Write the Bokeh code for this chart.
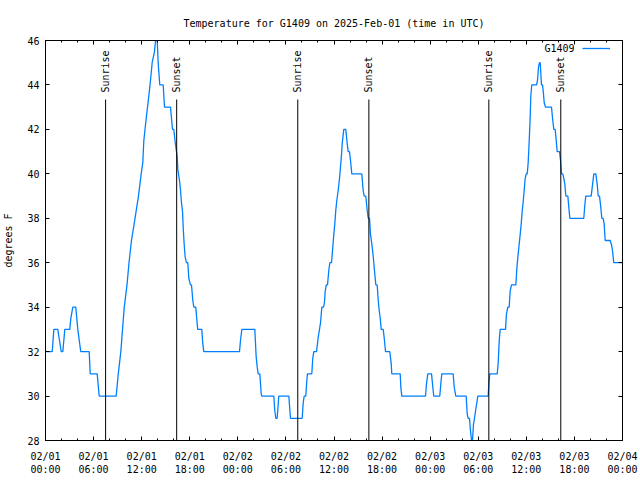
import math
from bokeh.plotting import figure
from bokeh.models import (Range1d, FixedTicker, LinearAxis, Label, Legend,
                          LegendItem, ColumnDataSource)
from bokeh.embed import file_html
from bokeh.resources import INLINE
from bokeh.core.properties import value

# ---- data (hours since 2025-02-01 00:00 UTC, degrees F) ----
hours = [
    0.00, 0.84, 1.04, 1.53, 1.75, 1.96, 2.16, 2.41, 3.03, 3.16, 3.41, 3.78, 4.03, 4.40,
    5.45, 5.58, 6.45, 6.70, 8.82, 9.08, 9.40, 9.61, 9.83, 10.17, 10.42, 10.73, 11.17,
    11.60, 11.94, 12.14, 12.27, 12.57, 12.89, 13.10, 13.31, 13.60, 13.73, 13.94, 14.06,
    14.26, 14.69, 14.85, 15.60, 15.72, 15.85, 16.01, 16.22, 16.43, 16.51, 16.72, 16.85,
    16.97, 17.10, 17.18, 17.31, 17.43, 17.59, 17.76, 17.88, 18.09, 18.22, 18.38, 18.51,
    18.75, 18.93, 19.00, 19.50, 19.63, 19.75, 24.21, 24.33, 24.50, 26.12, 26.29, 26.42,
    26.54, 26.74, 26.92, 26.99, 28.49, 28.61, 28.74, 28.91, 29.11, 30.36, 30.57, 32.03,
    32.16, 32.28, 32.48, 32.61, 32.69, 33.23, 33.35, 33.48, 33.82, 34.03, 34.19, 34.32,
    34.48, 34.69, 34.81, 34.90, 35.03, 35.19, 35.35, 35.48, 35.69, 35.85, 35.98, 36.10,
    36.22, 36.35, 36.52, 36.69, 36.81, 36.94, 37.02, 37.22, 37.47, 37.65, 37.77, 37.93,
    38.06, 38.22, 39.47, 39.64, 39.77, 39.97, 40.14, 40.27, 40.43, 40.55, 40.72, 40.89,
    41.05, 41.22, 41.39, 41.52, 41.64, 41.77, 41.89, 42.14, 42.30, 42.43, 42.96, 43.14,
    43.21, 44.26, 44.34, 44.46, 47.42, 47.54, 47.70, 48.17, 48.33, 48.45, 49.20, 49.33,
    49.45, 50.87, 51.00, 51.20, 52.49, 52.62, 52.74, 52.91, 53.03, 53.16, 53.28, 53.41,
    53.53, 53.69, 53.87, 53.94, 55.24, 55.32, 55.44, 56.37, 56.49, 56.62, 56.74, 57.40,
    57.52, 57.69, 57.86, 57.99, 58.15, 58.69, 58.81, 58.94, 59.11, 59.24, 59.36, 59.48,
    59.61, 59.73, 59.86, 59.98, 60.11, 60.23, 60.36, 60.48, 60.56, 60.68, 61.27, 61.39,
    61.52, 61.64, 61.73, 61.81, 61.89, 62.02, 62.14, 62.23, 62.39, 63.14, 63.30, 63.43,
    63.60, 63.73, 63.85, 64.14, 64.27, 64.39, 64.55, 64.68, 64.80, 64.93, 65.18, 65.30,
    65.43, 67.17, 67.30, 67.42, 68.09, 68.26, 68.42, 68.67, 68.85, 68.97, 69.13, 69.29,
    69.42, 69.59, 69.71, 69.84, 70.46, 70.63, 70.75, 70.91, 71.96,
]
temps = [
    32, 32, 33, 33, 32.5, 32, 32, 33, 33, 33.5, 34, 34, 33, 32,
    32, 31, 31, 30, 30, 31, 32, 33, 34, 35, 36, 37, 38,
    39, 40, 40.5, 41.5, 42.5, 43.5, 44.2, 45, 45.5, 46, 46, 45,
    44, 44, 43, 43, 42.5, 42, 42, 41.3, 40.8, 40.2, 39.7, 39.25,
    38.7, 38.3, 37.6, 36.8, 36.25, 36, 36, 35.3, 35, 35, 34.3, 34,
    34, 33.25, 33, 33, 32.35, 32, 32, 32.5, 33, 33, 31.75, 31.3,
    31, 31, 30.1, 30, 30, 29.35, 29, 29, 30, 30, 29, 29,
    29.7, 30, 30, 30.7, 31, 31, 31.7, 32, 32, 32.65, 33, 33.3,
    34, 34, 34.2, 34.7, 35, 35, 35.65, 36, 36, 36.7, 37.3, 37.75,
    38.35, 38.8, 39.25, 39.8, 40.3, 40.9, 41.35, 42, 42, 41.35, 41, 41,
    40.6, 40, 40, 39.25, 39, 39, 38.35, 38, 38, 37.3, 36.85, 36.3,
    35.65, 35, 35, 34.3, 33.85, 33.5, 33, 33, 32.5, 32, 32, 31.45,
    31, 31, 30.4, 30, 30, 30.55, 31, 31, 30.4, 30, 30, 30.55,
    31, 31, 30.4, 30, 30, 29.2, 29, 29, 28.45, 28, 28, 28.75,
    29, 29.4, 29.8, 30, 30, 30.55, 31, 31, 31.5, 32.5, 33, 33,
    33.7, 34, 34, 34.75, 35, 35, 35.7, 36.25, 36.85, 37.3, 37.75, 38.3,
    38.75, 39.25, 39.8, 40, 40, 40.5, 41.5, 42.55, 43.5, 44, 44, 44.2,
    44.8, 45, 45, 44.5, 44, 44, 43.6, 43.2, 43, 43, 42.4, 42,
    42, 41.5, 41, 41, 40.6, 40, 40, 39.8, 39.55, 39, 39, 38.5,
    38, 38, 38.6, 39, 39, 39.5, 40, 40, 39.5, 39, 39, 38.5,
    38, 38, 37.75, 37, 37, 36.8, 36.55, 36, 36,
]
sun_hours = [7.50, 16.37, 31.48, 40.35, 55.32, 64.30]
sun_names = ["Sunrise", "Sunset", "Sunrise", "Sunset", "Sunrise", "Sunset"]
x_ticks = [0, 6, 12, 18, 24, 30, 36, 42, 48, 54, 60, 66, 72]
x_tick_labels = ["02/01\n00:00", "02/01\n06:00", "02/01\n12:00", "02/01\n18:00",
                 "02/02\n00:00", "02/02\n06:00", "02/02\n12:00", "02/02\n18:00",
                 "02/03\n00:00", "02/03\n06:00", "02/03\n12:00", "02/03\n18:00",
                 "02/04\n00:00"]
x_minor = list(range(0, 73, 2))
y_ticks = [28, 30, 32, 34, 36, 38, 40, 42, 44, 46]
series_name = "G1409"
title_text = "Temperature for G1409 on 2025-Feb-01 (time in UTC)"

FONT = "DejaVu Sans Mono"
FS = "10px"
LINE_COLOR = "#0080ff"

X0, X1 = 0, 72
Y0, Y1 = 28, 46

p = figure(frame_width=577, frame_height=400, output_backend="svg",
           toolbar_location=None, x_range=Range1d(X0, X1), y_range=Range1d(Y0, Y1),
           min_border_left=45, min_border_right=18, min_border_top=40,
           min_border_bottom=40, title=title_text)
p.title.align = "center"
p.title.text_font = FONT
p.title.text_font_size = FS
p.title.text_font_style = "normal"
p.title.text_color = "black"
p.title.standoff = 24
p.background_fill_color = "white"
p.border_fill_color = "white"
p.outline_line_color = "black"
p.outline_line_width = 1
p.xgrid.visible = False
p.ygrid.visible = False

xt = FixedTicker(ticks=x_ticks, minor_ticks=x_minor)
yt = FixedTicker(ticks=y_ticks, minor_ticks=[])


def style_axis(ax):
    ax.axis_line_color = "black"
    ax.major_tick_line_color = "black"
    ax.minor_tick_line_color = "black"
    ax.major_tick_in = 4
    ax.major_tick_out = 0
    ax.minor_tick_in = 2
    ax.minor_tick_out = 0
    ax.major_label_text_font = FONT
    ax.major_label_text_font_size = FS
    ax.major_label_text_color = "black"


xa = p.xaxis[0]
xa.ticker = xt
xa.major_label_overrides = {t: l for t, l in zip(x_ticks, x_tick_labels)}
style_axis(xa)
xa.major_label_standoff = 10

ya = p.yaxis[0]
ya.ticker = yt
style_axis(ya)
ya.major_label_standoff = 6
ya.axis_label = "degrees F"
ya.axis_label_text_font = FONT
ya.axis_label_text_font_size = FS
ya.axis_label_text_font_style = "normal"
ya.axis_label_text_color = "black"
ya.axis_label_standoff = 10

# mirrored tick marks on top and right (no labels)
top = LinearAxis(ticker=xt)
style_axis(top)
top.major_label_overrides = {t: "" for t in x_ticks}
top.major_label_standoff = 0
p.add_layout(top, "above")
right = LinearAxis(ticker=yt)
style_axis(right)
right.major_label_overrides = {t: "" for t in y_ticks}
right.major_label_standoff = 0
p.add_layout(right, "right")

src = ColumnDataSource(dict(h=hours, t=temps))
r = p.line("h", "t", source=src, line_color=LINE_COLOR, line_width=1.3)

# sunrise / sunset markers
line_top = Y0 + 0.8525 * (Y1 - Y0)
label_y = Y0 + 0.87 * (Y1 - Y0)
p.segment(x0=sun_hours, y0=[Y0] * len(sun_hours), x1=sun_hours,
          y1=[line_top] * len(sun_hours), line_color="black", line_width=1)
p.text(x=sun_hours, y=[label_y] * len(sun_hours), text=sun_names,
       angle=math.pi / 2, text_align="left", text_baseline="middle",
       text_font=value(FONT), text_font_size=FS, text_color="black")

# legend: text then line sample
p.add_layout(Label(x=529, y=392, x_units="screen", y_units="screen",
                   text=series_name, text_align="right", text_baseline="middle",
                   text_font=FONT, text_font_size=FS, text_color="black"))
leg = Legend(items=[LegendItem(label=" ", renderers=[r])], location=(537, 387),
             glyph_width=28, glyph_height=10, label_height=10, label_width=1,
             label_standoff=0, padding=0, margin=0, spacing=0,
             border_line_color=None, background_fill_alpha=0,
             label_text_font_size=FS)
p.add_layout(leg, "center")

open("out.html", "w").write(file_html(p, INLINE))
